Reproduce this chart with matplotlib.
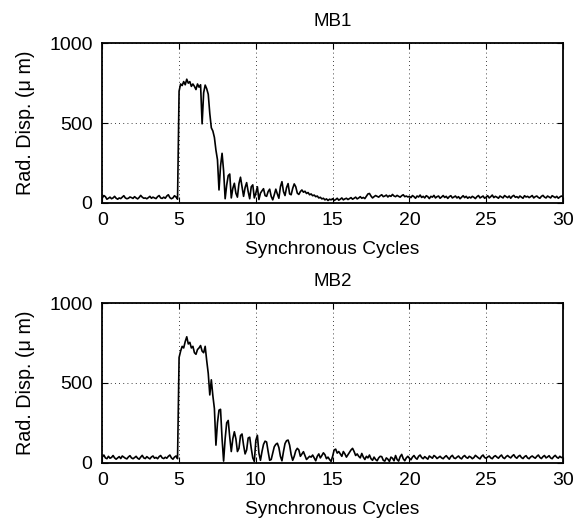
import numpy as np
import matplotlib
matplotlib.use("Agg")
import matplotlib.pyplot as plt

plt.rcParams['font.family'] = ['Liberation Sans', 'DejaVu Sans']

# Radial displacement (micrometres) sampled every 0.1 synchronous cycle, 0..30
mb1_disp = [
    30, 45, 38, 22, 28, 35, 25, 30, 40, 28,
    22, 30, 26, 35, 44, 30, 25, 28, 36, 32,
    27, 38, 30, 24, 33, 46, 35, 28, 30, 25,
    32, 40, 28, 35, 30, 26, 38, 45, 30, 27,
    35, 28, 42, 50, 32, 25, 30, 44, 36, 22,
    700, 745, 735, 760, 740, 775, 750, 760, 730, 745,
    730, 710, 745, 725, 740, 495, 690, 738, 715, 680,
    560, 470, 450, 410, 330, 270, 80, 230, 310, 200,
    25, 110, 170, 180, 30, 90, 122, 60, 35, 120,
    160, 100, 40, 95, 126, 70, 25, 100, 112, 30,
    60, 100, 20, 60, 75, 88, 45, 40, 70, 85,
    40, 18, 50, 85, 55, 28, 100, 132, 70, 45,
    95, 120, 55, 50, 90, 118, 100, 60, 52, 70,
    80, 66, 72, 58, 64, 50, 55, 44, 48, 38,
    42, 30, 34, 24, 28, 18, 24, 14, 22, 18,
    25, 14, 20, 28, 16, 22, 30, 18, 24, 28,
    20, 26, 32, 22, 28, 35, 24, 30, 38, 28,
    33, 26, 40, 55, 58, 42, 30, 38, 45, 40,
    35, 44, 50, 38, 42, 48, 36, 45, 40, 52,
    42, 38, 46, 40, 35, 44, 50, 38, 42, 36,
    40, 32, 45, 38, 28, 42, 36, 48, 33, 40,
    30, 44, 38, 26, 40, 35, 46, 30, 38, 42,
    28, 36, 45, 33, 40, 27, 38, 44, 30, 36,
    42, 30, 38, 25, 35, 44, 32, 40, 28, 36,
    30, 40, 34, 26, 38, 45, 30, 36, 42, 28,
    35, 44, 30, 38, 48, 32, 40, 35, 28, 42,
    36, 30, 45, 38, 32, 42, 28, 40, 46, 34,
    38, 30, 42, 35, 28, 44, 36, 40, 32, 38,
    45, 30, 38, 42, 33, 28, 40, 46, 35, 30,
    42, 36, 30, 44, 38, 32, 40, 28, 36, 42,
    38,
]

mb2_disp = [
    35, 48, 30, 25, 40, 28, 33, 45, 30, 22,
    30, 38, 26, 42, 35, 28, 24, 36, 44, 30,
    25, 32, 40, 28, 22, 35, 46, 30, 26, 38,
    30, 24, 36, 42, 28, 33, 25, 38, 45, 30,
    26, 34, 28, 40, 48, 30, 22, 35, 42, 25,
    660, 700, 730, 720, 760, 790, 745, 755, 720, 730,
    690, 680, 710, 720, 735, 700, 690, 730, 640, 560,
    425, 520, 420, 340, 110, 250, 330, 335, 150, 10,
    150, 250, 265, 160, 70, 150, 194, 150, 70, 90,
    170, 180, 110, 55, 80, 155, 160, 90, 30, 8,
    140, 172, 60, 15, 70, 115, 135, 130, 70, 15,
    20, 60, 100, 115, 122, 95, 40, 12, 70, 120,
    138, 142, 110, 50, 15, 40, 75, 90, 80, 40,
    55, 69, 45, 20, 30, 40, 35, 48, 30, 12,
    40, 55, 30, 45, 62, 50, 25, 35, 20, 8,
    40, 80, 85, 60, 70, 55, 40, 70, 55, 35,
    50, 65, 80, 90, 70, 45, 55, 40, 30, 58,
    35, 20, 40, 30, 48, 25, 15, 35, 20, 12,
    30, 40, 38, 15, 10, 30, 22, 8, 35, 28,
    12, 45, 20, 10, 38, 52, 25, 12, 30, 40,
    28, 18, 35, 45, 30, 22, 40, 48, 32, 25,
    38, 30, 22, 42, 35, 28, 45, 38, 26, 33,
    40, 30, 25, 36, 44, 32, 22, 38, 46, 30,
    26, 35, 42, 30, 24, 38, 45, 33, 28, 40,
    35, 25, 32, 46, 38, 30, 24, 40, 48, 32,
    28, 36, 42, 30, 25, 38, 44, 35, 28, 40,
    48, 32, 26, 38, 45, 36, 30, 42, 50, 35,
    28, 40, 46, 32, 26, 38, 44, 30, 25, 36,
    42, 34, 28, 40, 48, 33, 26, 38, 45, 30,
    36, 44, 30, 25, 38, 46, 34, 28, 40, 32,
    35,
]

cycles = np.arange(len(mb1_disp)) * 0.1

titles = ["MB1", "MB2"]
x_ticks = [0, 5, 10, 15, 20, 25, 30]
y_ticks = [0, 500, 1000]

fig = plt.figure(figsize=(5.86, 5.19), dpi=100)
ax_rects = [
    [0.1746, 0.6094, 0.786, 0.3071],
    [0.1746, 0.1085, 0.786, 0.3071],
]

for rect, title, series in zip(ax_rects, titles, [mb1_disp, mb2_disp]):
    ax = fig.add_axes(rect)
    ax.plot(cycles, series, color='black', linewidth=1.2)
    ax.set_xlim(0, 30)
    ax.set_ylim(0, 1000)
    ax.set_xticks(x_ticks)
    ax.set_yticks(y_ticks)
    ax.grid(True, color='black', linestyle=(0, (1, 4)), linewidth=0.6)
    ax.tick_params(direction='in', length=4, width=0.8, labelsize=14,
                   top=True, right=True)
    ax.tick_params(axis='x', pad=7)
    ax.tick_params(axis='y', pad=7)
    for sp in ax.spines.values():
        sp.set_linewidth(1.3)
    ax.set_title(title, fontsize=13.5, pad=12.5)
    ax.set_xlabel("Synchronous Cycles", fontsize=13.8, labelpad=8.5)
    ax.set_ylabel("Rad. Disp. (\u03bc m)", fontsize=14.2, labelpad=10)

fig.savefig("out.png", dpi=100)
